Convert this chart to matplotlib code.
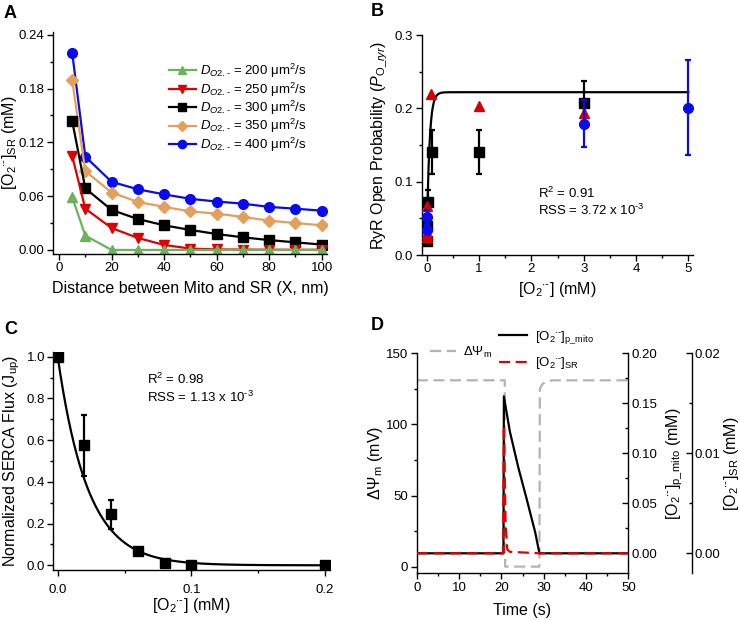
import numpy as np
import matplotlib
matplotlib.use("Agg")
import matplotlib.pyplot as plt
from matplotlib.ticker import MultipleLocator, FormatStrFormatter

plt.rcParams['font.family'] = ['Liberation Sans', 'DejaVu Sans']
plt.rcParams['mathtext.fontset'] = 'custom'
plt.rcParams['mathtext.rm'] = 'Liberation Sans'
plt.rcParams['mathtext.it'] = 'Liberation Sans:italic'
plt.rcParams['mathtext.bf'] = 'Liberation Sans:bold'
plt.rcParams['axes.linewidth'] = 1.0
plt.rcParams['xtick.direction'] = 'out'
plt.rcParams['ytick.direction'] = 'out'

# ---------------- Panel A data ----------------
dist_nm = [5, 10, 20, 30, 40, 50, 60, 70, 80, 90, 100]
conc_D200 = [0.059, 0.016, 0.0, 0.0, 0.0, 0.0, 0.0, 0.0, 0.0, 0.0, 0.0]
conc_D250 = [0.105, 0.046, 0.0245, 0.0134, 0.0056, 0.0015, 0.0006, 0.0004, 0.0003, 0.0002, 0.0002]
conc_D300 = [0.144, 0.0687, 0.0446, 0.0345, 0.0275, 0.0223, 0.0178, 0.0141, 0.011, 0.0085, 0.006]
conc_D350 = [0.189, 0.088, 0.064, 0.0535, 0.048, 0.043, 0.0405, 0.0368, 0.0327, 0.030, 0.0275]
conc_D400 = [0.220, 0.104, 0.076, 0.0676, 0.062, 0.057, 0.054, 0.0516, 0.048, 0.046, 0.0438]
diff_labels = ['200', '250', '300', '350', '400']

# ---------------- Panel B data ----------------
red_x = [0.001, 0.005, 0.01, 0.08, 1, 3]
red_y = [0.025, 0.030, 0.067, 0.220, 0.203, 0.194]
black_x = [0.005, 0.01, 0.02, 0.1, 1, 3]
black_y = [0.019, 0.040, 0.072, 0.140, 0.140, 0.207]
black_err = [0.003, 0.010, 0.017, 0.030, 0.030, 0.030]
blue_x = [0.005, 0.01, 3, 5]
blue_y = [0.034, 0.052, 0.179, 0.201]
blue_err = [0.005, 0.010, 0.032, 0.065]
fitB_max = 0.222
fitB_base = 0.015
fitB_tau = 0.05

# ---------------- Panel C data ----------------
serca_x = [0.0, 0.02, 0.04, 0.06, 0.08, 0.1, 0.2]
serca_y = [1.0, 0.575, 0.245, 0.07, 0.012, 0.0, 0.0]
serca_err = [0.0, 0.145, 0.07, 0.0, 0.0, 0.0, 0.0]
fitC_tau = 0.0225

# ---------------- Panel D data ----------------
psi_t = [0, 20.8, 20.9, 29.0, 29.1, 29.6, 30.5, 32.0, 50]
psi_v = [131, 131, 0, 0, 125, 128, 130, 131, 131]
mito_t = [0, 20.5, 20.6, 22, 24, 26, 28, 29, 50]
mito_v = [0, 0, 0.157, 0.122, 0.086, 0.054, 0.021, 0.0, 0.0]
sr_t = [0, 20.4, 20.6, 21.0, 21.4, 22, 29, 50]
sr_v = [0, 0, 0.0128, 0.003, 0.0004, 0.00015, 0.0, 0.0]

W, H = 740, 620
fig = plt.figure(figsize=(7.4, 6.2), dpi=100)

HY = '\u2010'
O2 = r'[O$_2$$^{\cdot' + HY + r'}$]'


def rect(l, t, r, b):
    return [l / W, 1 - b / H, (r - l) / W, (b - t) / H]


TICK = 9.5
LAB = 11.5


def style(ax):
    ax.spines['top'].set_visible(False)
    ax.spines['right'].set_visible(False)
    ax.tick_params(which='major', length=4, width=1, labelsize=TICK, pad=2)
    ax.tick_params(which='minor', length=2.5, width=1)


# ---------------- A ----------------
axA = fig.add_axes(rect(53, 32, 327, 254))
style(axA)
colors = ['#6ab35a', '#e00000', '#000000', '#e3a05c', '#0a0aef']
markers = ['^', 'v', 's', 'D', 'o']
msz = [7, 7, 6.5, 6, 7]
series = [conc_D200, conc_D250, conc_D300, conc_D350, conc_D400]
handles = []
for i in range(4, -1, -1):
    h, = axA.plot(dist_nm, series[i], color=colors[i], marker=markers[i],
                  markersize=msz[i], lw=1.6,
                  label=r'$D_{O2.' + HY + r'}$ = ' + diff_labels[i] + r' μm$^2$/s')
    handles.append(h)
handles = handles[::-1]
axA.set_xlim(-2.3, 102)
axA.set_ylim(-0.0045, 0.243)
axA.xaxis.set_major_locator(MultipleLocator(20))
axA.xaxis.set_minor_locator(MultipleLocator(10))
axA.yaxis.set_major_locator(MultipleLocator(0.06))
axA.yaxis.set_minor_locator(MultipleLocator(0.03))
axA.yaxis.set_major_formatter(FormatStrFormatter('%.2f'))
axA.set_xlabel('Distance between Mito and SR (X, nm)', fontsize=LAB, labelpad=5)
axA.set_ylabel(O2 + r'$_{\mathregular{SR}}$ (mM)', fontsize=LAB)
axA.yaxis.set_label_coords(-0.125, 0.5)
axA.legend(handles=handles, loc='upper left', bbox_to_anchor=(0.40, 0.895),
           frameon=False, fontsize=9.5, handlelength=2.0, handletextpad=0.3,
           labelspacing=0.02, borderpad=0, markerscale=0.85)

# ---------------- B ----------------
axB = fig.add_axes(rect(421.7, 35, 693, 255))
style(axB)
xf = np.linspace(0, 5, 600)
axB.plot(xf, fitB_base + (fitB_max - fitB_base) * (1 - np.exp(-xf / fitB_tau)), color='black', lw=1.6, zorder=2)
axB.errorbar(black_x, black_y, yerr=black_err, fmt='s', color='black', ms=6.5,
             elinewidth=1.6, capsize=2.5, capthick=1.6, zorder=3)
axB.errorbar(blue_x, blue_y, yerr=blue_err, fmt='o', color='#0a0aef', ms=7,
             elinewidth=1.6, capsize=2.5, capthick=1.6, zorder=4)
axB.plot(red_x, red_y, '^', color='#d40000', ms=7.5, zorder=3.5, lw=0)
axB.set_xlim(-0.096, 5.09)
axB.set_ylim(0, 0.3)
axB.xaxis.set_major_locator(MultipleLocator(1))
axB.xaxis.set_minor_locator(MultipleLocator(0.5))
axB.yaxis.set_major_locator(MultipleLocator(0.1))
axB.yaxis.set_minor_locator(MultipleLocator(0.05))
axB.yaxis.set_major_formatter(FormatStrFormatter('%.1f'))
axB.set_xlabel(O2 + ' (mM)', fontsize=LAB, labelpad=3)
axB.set_ylabel(r'RyR Open Probability ($P_{\mathregular{O}\_ryr}$)', fontsize=LAB, labelpad=4)
axB.text(0.43, 0.26, r'R$^2$ = 0.91', transform=axB.transAxes, fontsize=9.5)
axB.text(0.43, 0.18, r'RSS = 3.72 x 10$^{\mathregular{' + HY + '3}}$', transform=axB.transAxes, fontsize=9.5)

# ---------------- C ----------------
axC = fig.add_axes(rect(53.3, 351.7, 330, 570))
style(axC)
axC.tick_params(axis='x', which='major', pad=6)
xc = np.linspace(0, 0.2, 400)
axC.plot(xc, np.exp(-xc / fitC_tau), color='black', lw=1.6, zorder=2)
axC.errorbar(serca_x, serca_y, yerr=serca_err, fmt='s', color='black', ms=7,
             elinewidth=1.6, capsize=2.5, capthick=1.6, zorder=3)
axC.set_xlim(-0.0033, 0.2037)
axC.set_ylim(-0.0225, 1.024)
axC.xaxis.set_major_locator(MultipleLocator(0.1))
axC.xaxis.set_minor_locator(MultipleLocator(0.05))
axC.yaxis.set_major_locator(MultipleLocator(0.2))
axC.yaxis.set_minor_locator(MultipleLocator(0.1))
axC.yaxis.set_major_formatter(FormatStrFormatter('%.1f'))
axC.xaxis.set_major_formatter(FormatStrFormatter('%.1f'))
axC.set_xlabel(O2 + ' (mM)', fontsize=LAB, labelpad=0)
axC.set_ylabel(r'Normalized SERCA Flux (J$_{\mathregular{up}}$)', fontsize=LAB, labelpad=3)
axC.text(0.34, 0.85, r'R$^2$ = 0.98', transform=axC.transAxes, fontsize=9.5)
axC.text(0.34, 0.77, r'RSS = 1.13 x 10$^{\mathregular{' + HY + '3}}$', transform=axC.transAxes, fontsize=9.5)

# ---------------- D ----------------
axD = fig.add_axes(rect(416.7, 353.3, 628.3, 573.3))
axD.spines['top'].set_visible(False)
axD.spines['right'].set_visible(False)
axD.tick_params(which='major', length=4, width=1, labelsize=TICK, pad=2)
axD.tick_params(which='minor', length=2.5, width=1)
lg, = axD.plot(psi_t, psi_v, color='#b3b3b3', lw=1.6, dashes=(5, 2.5), label=r'$\Delta\Psi_{\mathregular{m}}$')
axD.set_xlim(0, 50)
axD.set_ylim(-4.7, 150)
axD.xaxis.set_major_locator(MultipleLocator(10))
axD.xaxis.set_minor_locator(MultipleLocator(5))
axD.yaxis.set_major_locator(MultipleLocator(50))
axD.yaxis.set_minor_locator(MultipleLocator(25))
axD.set_xlabel('Time (s)', fontsize=LAB, labelpad=7)
axD.set_ylabel(r'$\Delta\Psi_{\mathregular{m}}$ (mV)', fontsize=LAB, labelpad=1)


def right_axis(ax, pos):
    a = ax.twinx()
    a.patch.set_visible(False)
    a.spines['top'].set_visible(False)
    a.spines['left'].set_visible(False)
    a.spines['bottom'].set_visible(False)
    if pos != 1.0:
        a.spines['right'].set_position(('axes', pos))
    a.tick_params(which='major', direction='in', length=4, width=1, labelsize=TICK, pad=2)
    a.tick_params(which='minor', direction='in', length=2.5, width=1)
    return a


axD1 = right_axis(axD, 1.0)
lm, = axD1.plot(mito_t, mito_v, color='black', lw=1.6, label=O2 + r'$_{\mathregular{p\_mito}}$')
axD1.set_ylim(-0.02, 0.2)
axD1.yaxis.set_major_locator(MultipleLocator(0.05))
axD1.yaxis.set_minor_locator(MultipleLocator(0.025))
axD1.yaxis.set_major_formatter(FormatStrFormatter('%.2f'))
axD1.set_ylabel(O2 + r'$_{\mathregular{p\_mito}}$ (mM)', fontsize=LAB)
axD1.yaxis.set_label_coords(1.168, 0.5)

axD2 = right_axis(axD, 1.30)
ls, = axD2.plot(sr_t, sr_v, color='#e00000', lw=1.6, dashes=(5, 2.5), label=O2 + r'$_{\mathregular{SR}}$')
axD2.set_ylim(-0.002, 0.02)
axD2.yaxis.set_major_locator(MultipleLocator(0.01))
axD2.yaxis.set_minor_locator(MultipleLocator(0.005))
axD2.yaxis.set_major_formatter(FormatStrFormatter('%.2f'))
axD2.set_ylabel(O2 + r'$_{\mathregular{SR}}$ (mM)', fontsize=LAB)
axD2.yaxis.set_label_coords(1.445, 0.5)

fig.legend(handles=[lg], loc='center left', bbox_to_anchor=(430 / W, 1 - 352 / H),
           frameon=False, fontsize=9.5, handlelength=2.0, handletextpad=0.5,
           borderpad=0, borderaxespad=0)
fig.legend(handles=[lm, ls], loc='center left', bbox_to_anchor=(499 / W, 1 - 350 / H),
           frameon=False, fontsize=9.5, handlelength=2.1, handletextpad=0.6,
           labelspacing=0.7, borderpad=0, borderaxespad=0)

# panel letters
for lbl, x, y in [('A', 4, 14), ('B', 371, 12), ('C', 4, 330), ('D', 371, 326)]:
    fig.text(x / W, 1 - y / H, lbl, fontsize=13, fontweight='bold', va='center', ha='left')

fig.savefig('out.png', dpi=100)
